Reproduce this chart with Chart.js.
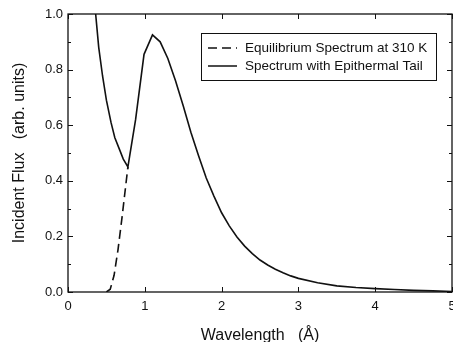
<!DOCTYPE html>
<html><head><meta charset="utf-8">
<script src="https://cdn.jsdelivr.net/npm/chart.js@4"></script>
<style>html,body{margin:0;padding:0;background:#fff}canvas{display:block}</style>
</head><body>
<canvas id="c" width="453" height="342"></canvas>
<script>
const xTicks = [0, 1, 2, 3, 4, 5];
const yMajorTicks = [0, 0.2, 0.4, 0.6, 0.8, 1.0];
const yMinorTicks = [0.1, 0.3, 0.5, 0.7, 0.9];
const seriesLabels = ['Equilibrium Spectrum at 310 K', 'Spectrum with Epithermal Tail'];
const xTitle = 'Wavelength   (\u00C5)';
const yTitle = 'Incident Flux   (arb. units)';

const eqWavelength = [0.50, 0.55, 0.60, 0.65, 0.70, 0.78];
const eqFlux       = [0.00, 0.01, 0.06, 0.15, 0.26, 0.45];

const tailWavelength = [0.36, 0.40, 0.45, 0.50, 0.56, 0.61, 0.67, 0.72, 0.78, 0.88, 0.99, 1.10, 1.20, 1.30, 1.40, 1.50, 1.60, 1.70, 1.80, 1.90, 2.00, 2.10, 2.20, 2.30, 2.40, 2.50, 2.60, 2.70, 2.80, 2.90, 3.00, 3.25, 3.50, 3.75, 4.00, 4.25, 4.50, 4.75, 5.00];
const tailFlux       = [1.00, 0.88, 0.777, 0.69, 0.61, 0.555, 0.513, 0.478, 0.45, 0.62, 0.855, 0.925, 0.90, 0.84, 0.76, 0.67, 0.575, 0.49, 0.41, 0.345, 0.285, 0.238, 0.198, 0.165, 0.138, 0.115, 0.097, 0.082, 0.069, 0.058, 0.049, 0.033, 0.022, 0.016, 0.012, 0.009, 0.006, 0.004, 0.002];

const INK = '#111';
const FONT = '"Liberation Sans", Arial, sans-serif';

const pts = (xs, ys) => xs.map((x, i) => ({x, y: ys[i]}));

const frameAndTicks = {
  id: 'frameAndTicks',
  afterDraw(chart) {
    const {ctx, chartArea: a, scales: {x, y}} = chart;
    ctx.save();
    ctx.strokeStyle = INK;
    ctx.lineWidth = 1.3;
    ctx.strokeRect(a.left, a.top, a.right - a.left, a.bottom - a.top);
    ctx.lineWidth = 1;
    ctx.beginPath();
    for (const v of xTicks) {
      const px = Math.round(x.getPixelForValue(v)) + 0.5;
      ctx.moveTo(px, a.bottom); ctx.lineTo(px, a.bottom - 5);
      ctx.moveTo(px, a.top); ctx.lineTo(px, a.top + 5);
    }
    const yt = (v, len) => {
      const py = Math.round(y.getPixelForValue(v)) + 0.5;
      ctx.moveTo(a.left, py); ctx.lineTo(a.left + len, py);
      ctx.moveTo(a.right, py); ctx.lineTo(a.right - len, py);
    };
    yMajorTicks.forEach(v => yt(v, 5));
    yMinorTicks.forEach(v => yt(v, 3));
    ctx.stroke();

    // legend
    const bx = 201, by = 33, bw = 235, bh = 47;
    ctx.lineWidth = 1;
    ctx.strokeRect(bx + 0.5, by + 0.5, bw, bh);
    ctx.font = '13.5px ' + FONT;
    ctx.fillStyle = INK;
    ctx.textBaseline = 'middle';
    chart.data.datasets.forEach((ds, i) => {
      const ly = by + 15 + i * 18;
      ctx.beginPath();
      ctx.lineWidth = 1.5;
      ctx.setLineDash(ds.borderDash || []);
      ctx.moveTo(208, ly); ctx.lineTo(237, ly);
      ctx.stroke();
      ctx.setLineDash([]);
      ctx.fillText(ds.label, 245, ly + 0.5);
    });
    ctx.restore();
  }
};

new Chart(document.getElementById('c'), {
  type: 'scatter',
  data: {
    datasets: [
      { label: seriesLabels[0], data: pts(eqWavelength, eqFlux), showLine: true,
        borderColor: INK, borderWidth: 1.6, borderDash: [9, 5], pointRadius: 0, tension: 0 },
      { label: seriesLabels[1], data: pts(tailWavelength, tailFlux), showLine: true,
        borderColor: INK, borderWidth: 1.6, pointRadius: 0, tension: 0 }
    ]
  },
  options: {
    responsive: false,
    devicePixelRatio: 1,
    animation: false,
    layout: { padding: { top: 14, right: 1, left: 0, bottom: 0 } },
    plugins: { legend: { display: false }, tooltip: { enabled: false } },
    scales: {
      x: {
        type: 'linear', min: 0, max: 5,
        grid: { display: false, drawTicks: false }, border: { display: false },
        ticks: { stepSize: 1, padding: 7, color: INK, font: { family: FONT, size: 13 } },
        title: { display: true, text: xTitle, color: INK, font: { family: FONT, size: 16 }, padding: { top: 0, bottom: -3 } },
        afterFit(s) { s.height = 50; s.paddingLeft = 0; s.paddingRight = 0; }
      },
      y: {
        type: 'linear', min: 0, max: 1,
        grid: { display: false, drawTicks: false }, border: { display: false },
        ticks: { stepSize: 0.2, padding: 5, color: INK, font: { family: FONT, size: 13 },
                 callback: v => Number(v).toFixed(1) },
        title: { display: true, text: yTitle, color: INK, font: { family: FONT, size: 16 }, padding: { top: 9.5, bottom: 0 } },
        afterFit(s) { s.width = 68; }
      }
    }
  },
  plugins: [frameAndTicks]
});
</script>
</body></html>
